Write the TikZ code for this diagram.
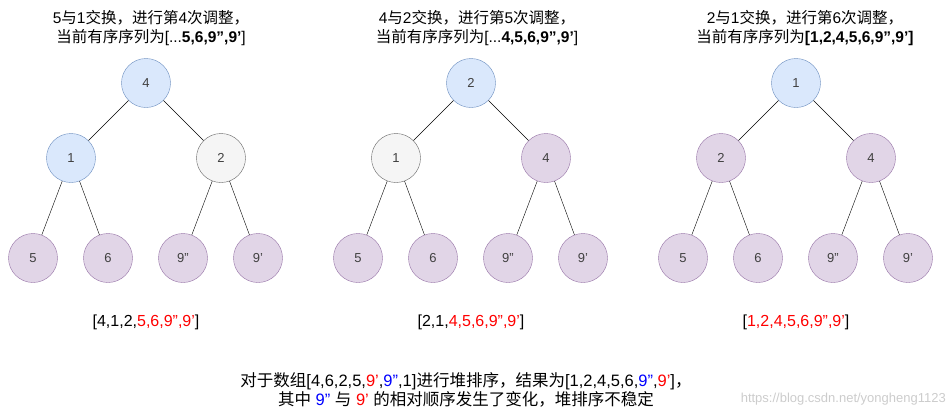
\documentclass[tikz,border=0pt]{standalone}
\usepackage{fontspec}
\setmainfont{Liberation Sans}[Ligatures=ResetAll]
\newfontfamily\cjk{Noto Sans CJK SC}
\newcommand{\dq}{\symbol{34}}
\newcommand{\sq}{\symbol{39}}
\begin{document}
\begin{tikzpicture}[x=1pt,y=-1pt,
  nd/.style={circle,minimum size=49pt,inner sep=0pt,font=\fontsize{13}{15}\selectfont,text=black!75},
  bl/.style={nd,fill={rgb,255:red,218;green,232;blue,252},draw={rgb,255:red,108;green,142;blue,191}},
  gr/.style={nd,fill={rgb,255:red,245;green,245;blue,245},draw={rgb,255:red,102;green,102;blue,102}},
  pu/.style={nd,fill={rgb,255:red,225;green,213;blue,231},draw={rgb,255:red,150;green,115;blue,166}},
  ed/.style={draw=black},
  tx/.style={font=\fontsize{15.5}{19}\selectfont,align=center,inner sep=0pt}]
\useasboundingbox (0,0) rectangle (951,416);
\newcommand{\tree}[8]{%
  \node[#2] (#1r) at (#3,83) {#4};
  \node[#5] (#1a) at (#3-75,158) {#6};
  \node[#7] (#1b) at (#3+75,158) {#8};
  \node[pu] (#1c) at (#3-113,258) {5};
  \node[pu] (#1d) at (#3-38,258) {6};
  \node[pu] (#1e) at (#3+37,258) {9\dq};
  \node[pu] (#1f) at (#3+112,258) {9\sq};
  \draw[ed] (#1r)--(#1a) (#1r)--(#1b) (#1a)--(#1c) (#1a)--(#1d) (#1b)--(#1e) (#1b)--(#1f);}
\tree{t}{bl}{146}{4}{bl}{1}{gr}{2}
\tree{u}{bl}{471}{2}{gr}{1}{pu}{4}
\tree{v}{bl}{796}{1}{pu}{2}{pu}{4}
\node[tx] (h1) at (151,28) {5{\cjk 与}1{\cjk 交换，进行第}4{\cjk 次调整，}\\{\cjk 当前有序序列为}[...\textbf{5,6,9\dq,9\sq}]};
\node[tx] (h2) at (477,28) {4{\cjk 与}2{\cjk 交换，进行第}5{\cjk 次调整，}\\{\cjk 当前有序序列为}[...\textbf{4,5,6,9\dq,9\sq}]};
\node[tx] (h3) at (805,28) {2{\cjk 与}1{\cjk 交换，进行第}6{\cjk 次调整，}\\{\cjk 当前有序序列为}\textbf{[1,2,4,5,6,9\dq,9\sq]}};
\node[tx,font=\fontsize{16}{18}\selectfont] (a1) at (146,322) {[4,1,2,\textcolor{red}{5,6,9\dq,9\sq}]};
\node[tx,font=\fontsize{16}{18}\selectfont] (a2) at (471,322) {[2,1,\textcolor{red}{4,5,6,9\dq,9\sq}]};
\node[tx,font=\fontsize{16}{18}\selectfont] (a3) at (796,322) {[\textcolor{red}{1,2,4,5,6,9\dq,9\sq}]};
\node[tx,font=\fontsize{16.5}{18.5}\selectfont] (b) at (466,390) {{\cjk 对于数组}[4,6,2,5,\textcolor{red}{9\sq},\textcolor{blue}{9\dq},1]{\cjk 进行堆排序，结果为}[1,2,4,5,6,\textcolor{blue}{9\dq},\textcolor{red}{9\sq}]{\cjk ，}\\{\cjk 其中} \textcolor{blue}{9\dq} {\cjk 与} \textcolor{red}{9\sq} {\cjk 的相对顺序发生了变化，堆排序不稳定}};
\node[tx,font=\fontsize{13}{15}\selectfont,text=black!20,anchor=east] (w) at (946,399) {https://blog.csdn.net/yongheng1123};
\end{tikzpicture}
\end{document}
